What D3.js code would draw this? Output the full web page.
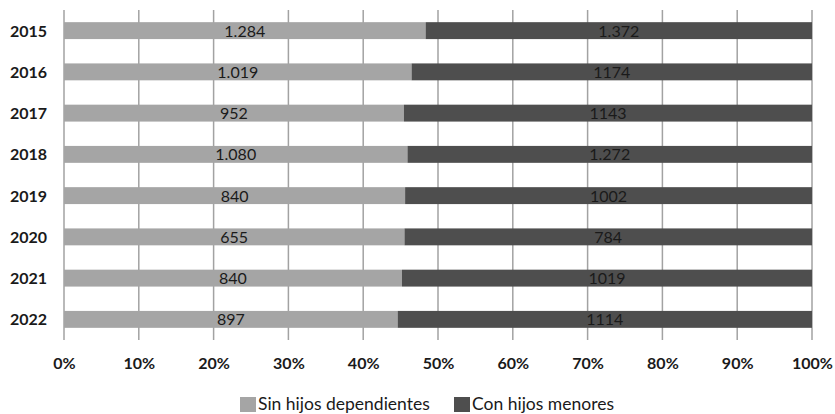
<!DOCTYPE html>
<html>
<head>
<meta charset="utf-8">
<script src="https://cdn.jsdelivr.net/npm/d3@7"></script>
<style>
  html, body { margin: 0; padding: 0; background: #fff; }
  svg { display: block; font-family: Lato, "Open Sans", sans-serif; }
</style>
</head>
<body>
<svg id="chart" width="835" height="414"></svg>
<script>
// Years shown on the vertical axis
const years = ["2015", "2016", "2017", "2018", "2019", "2020", "2021", "2022"];
// Counts per household type
const sinHijos = [1284, 1019, 952, 1080, 840, 655, 840, 897];
const conHijos = [1372, 1174, 1143, 1272, 1002, 784, 1019, 1114];
// Printed labels (as formatted in the source table)
const sinLabels = ["1.284", "1.019", "952", "1.080", "840", "655", "840", "897"];
const conLabels = ["1.372", "1174", "1143", "1.272", "1002", "784", "1019", "1114"];
const seriesNames = ["Sin hijos dependientes", "Con hijos menores"];
const tickValues = [0, 0.1, 0.2, 0.3, 0.4, 0.5, 0.6, 0.7, 0.8, 0.9, 1];

const colors = ["#a5a5a5", "#4e4e4e"];

const svg = d3.select("#chart");
const plotLeft = 64, plotRight = 812, plotTop = 10, plotBottom = 340;

const x = d3.scaleLinear().domain([0, 1]).range([plotLeft, plotRight]);
const y = d3.scaleBand().domain(years).range([plotTop, plotBottom]).paddingInner(0.59).paddingOuter(0.295);

// rows with stacked shares
const rows = years.map((yr, i) => ({ year: yr, sin: sinHijos[i], con: conHijos[i] }));
const stack = d3.stack().keys(["sin", "con"]).offset(d3.stackOffsetExpand);
const layers = stack(rows);
const labels = [sinLabels, conLabels];

// vertical gridlines (extend slightly below the last bar as tick marks)
svg.append("g")
  .selectAll("line")
  .data(tickValues)
  .join("line")
  .attr("x1", d => x(d)).attr("x2", d => x(d))
  .attr("y1", plotTop).attr("y2", plotBottom)
  .attr("stroke", "#a2a2a2")
  .attr("stroke-width", 1.5);

// bars
layers.forEach((layer, li) => {
  const g = svg.append("g");
  g.selectAll("rect")
    .data(layer)
    .join("rect")
    .attr("x", d => x(d[0]))
    .attr("width", d => x(d[1]) - x(d[0]))
    .attr("y", d => y(d.data.year))
    .attr("height", y.bandwidth())
    .attr("fill", colors[li]);
  g.selectAll("text")
    .data(layer)
    .join("text")
    .attr("x", d => (x(d[0]) + x(d[1])) / 2)
    .attr("y", d => y(d.data.year) + y.bandwidth() / 2 + 6)
    .attr("text-anchor", "middle")
    .attr("font-size", 16)
    .attr("fill", "#1a1a1a")
    .text((d, i) => labels[li][i]);
});

// year labels
svg.append("g")
  .selectAll("text")
  .data(years)
  .join("text")
  .attr("x", 47)
  .attr("y", d => y(d) + y.bandwidth() / 2 + 6)
  .attr("text-anchor", "end")
  .attr("font-size", 16)
  .attr("font-weight", "bold")
  .attr("fill", "#1a1a1a")
  .text(d => d);

// percentage axis
const xAxis = d3.axisBottom(x).tickValues(tickValues).tickFormat(d3.format(".0%")).tickSize(0);
const ax = svg.append("g").attr("transform", `translate(0,${plotBottom})`).call(xAxis);
ax.select(".domain").remove();
ax.selectAll("text")
  .attr("dy", 0).attr("y", 29)
  .attr("font-size", 16)
  .attr("font-weight", "bold")
  .attr("font-family", "Lato, sans-serif")
  .attr("fill", "#1a1a1a");

// legend
const legendItems = [
  { name: seriesNames[0], color: colors[0], x: 240 },
  { name: seriesNames[1], color: colors[1], x: 454 }
];
const lg = svg.append("g");
legendItems.forEach(it => {
  lg.append("rect").attr("x", it.x).attr("y", 397).attr("width", 16).attr("height", 15).attr("fill", it.color);
  lg.append("text")
    .attr("x", it.x + 18).attr("y", 410)
    .attr("font-size", 17.5)
    .attr("fill", "#1a1a1a")
    .text(it.name);
});
</script>
</body>
</html>
